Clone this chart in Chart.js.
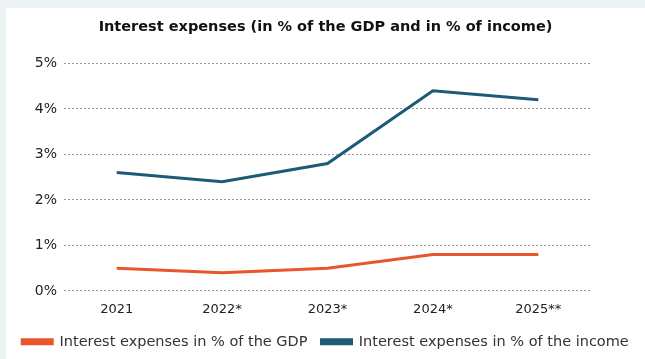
<!DOCTYPE html>
<html>
<head>
<meta charset="utf-8">
<script src="https://cdn.jsdelivr.net/npm/chart.js@4"></script>
<style>
  html, body { margin: 0; padding: 0; background: #edf2f5; }
  #panel { position: absolute; left: 6px; top: 8px; width: 639px; height: 351px; background: #fff; }
</style>
</head>
<body>
<div id="panel"><canvas id="myChart" width="639" height="351"></canvas></div>
<script>
'use strict';

const years = ['2021', '2022*', '2023*', '2024*', '2025**'];
const gdpShare = [0.5, 0.4, 0.5, 0.8, 0.8];
const incomeShare = [2.6, 2.4, 2.8, 4.4, 4.2];
const yTicks = [0, 1, 2, 3, 4, 5];

Chart.defaults.font.family = '"DejaVu Sans", sans-serif';
Chart.defaults.font.size = 14;
Chart.defaults.color = '#333';

const ctx = document.getElementById('myChart');
new Chart(ctx, {
  type: 'line',
  data: {
    labels: years,
    datasets: [
      {
        label: 'Interest expenses in % of the GDP',
        data: gdpShare,
        borderColor: '#e8562a',
        backgroundColor: '#e8562a',
        borderWidth: 3,
        pointRadius: 0,
        tension: 0,
      },
      {
        label: 'Interest expenses in % of the income',
        data: incomeShare,
        borderColor: '#1c5b78',
        backgroundColor: '#1c5b78',
        borderWidth: 3,
        pointRadius: 0,
        tension: 0,
      },
    ],
  },
  options: {
    responsive: false,
    animation: false,
    layout: { padding: { left: 0, right: 0, top: 0, bottom: 0 } },
    plugins: {
      title: {
        display: true,
        text: 'Interest expenses (in % of the GDP and in % of income)',
        color: '#111',
        font: { weight: 'bold', size: 14.5 },
        padding: { top: 11, bottom: 27 },
      },
      legend: {
        position: 'bottom',
        labels: {
          boxWidth: 30,
          boxHeight: 4,
          padding: 14,
          color: '#333',
          font: { size: 14.5 },
        },
      },
      tooltip: { enabled: false },
    },
    scales: {
      x: {
        offset: true,
        grid: { display: false },
        border: { display: false },
        ticks: { padding: 3, color: '#222', font: { size: 13 } },
      },
      y: {
        min: 0,
        max: 5,
        afterBuildTicks: (scale) => {
          scale.ticks = yTicks.map((v) => ({ value: v }));
        },
        afterFit: (scale) => {
          scale.width = 58;
        },
        grid: { color: '#999', lineWidth: 1, drawTicks: false },
        border: { display: false, dash: [2, 2] },
        ticks: {
          padding: 7,
          color: '#222',
          callback: (v) => v + '%',
        },
      },
      spacer: {
        position: 'right',
        grid: { display: false },
        border: { display: false },
        ticks: { display: false },
        afterFit: (scale) => {
          scale.width = 54;
        },
      },
    },
  },
});
</script>
</body>
</html>
